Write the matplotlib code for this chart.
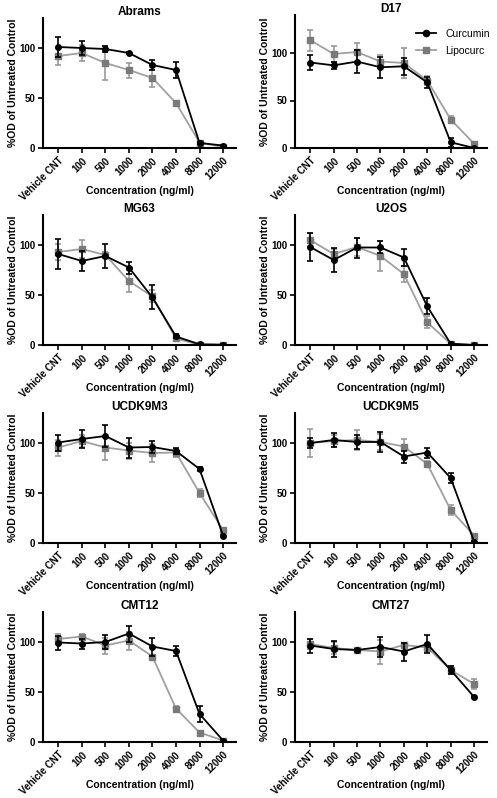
import numpy as np
import matplotlib.pyplot as plt
from matplotlib.lines import Line2D

plt.rcParams['font.family'] = ['Liberation Sans', 'DejaVu Sans']

conc_labels = ["Vehicle CNT", "100", "500", "1000", "2000", "4000", "8000", "12000"]
titles = ["Abrams", "D17", "MG63", "U2OS", "UCDK9M3", "UCDK9M5", "CMT12", "CMT27"]

# Curcumin / Lipocurc means and SD, one list per cell line
abrams_cur = [101, 100, 99, 95, 83, 78, 5, 2.5]
abrams_cur_sd = [10, 7, 3, 1, 5, 8, 1, 0.5]
abrams_lip = [92, 95, 85, 78, 70, 45, 5.5, 1]
abrams_lip_sd = [8.5, 8, 17, 7.5, 8.5, 2, 1, 0.5]

d17_cur = [90, 87, 91, 85, 86, 69, 6, 0]
d17_cur_sd = [8, 4, 12, 11, 9, 6, 5, 0]
d17_lip = [113.5, 99, 101, 91, 89.5, 71, 30, 4.5]
d17_lip_sd = [11, 8, 10, 7, 16, 5, 4, 1]

mg63_cur = [91, 84, 89, 77.5, 47.5, 8.5, 0.7, 0.3]
mg63_cur_sd = [15, 10, 12, 6, 12, 2, 0.5, 0.3]
mg63_lip = [93, 96, 90, 64, 48.5, 6.5, 0.3, 0.3]
mg63_lip_sd = [8, 9, 3, 11, 6, 3, 0.3, 0.3]

u2os_cur = [98, 85, 97.5, 97.5, 87.5, 38.5, 1.3, 0]
u2os_cur_sd = [14, 12, 10, 6, 8, 8, 0.5, 0]
u2os_lip = [105, 91, 98, 89, 71, 22.5, 1.3, 0]
u2os_lip_sd = [7, 5, 9, 15, 8, 6, 0.5, 0]

m3_cur = [100.5, 104, 107, 95.5, 96, 92, 74, 7.5]
m3_cur_sd = [8, 9, 11, 10, 6, 3, 2, 0.5]
m3_lip = [95.5, 102, 95.5, 92.5, 90, 90.5, 50, 13]
m3_lip_sd = [8, 6, 12, 8, 9, 4, 4, 2]

m5_cur = [100, 103, 101, 101, 86.5, 90.5, 65, 1.5]
m5_cur_sd = [5, 7, 7, 10, 6, 5, 5, 0.5]
m5_lip = [100, 102, 103, 101, 96.5, 79, 33, 7.5]
m5_lip_sd = [14, 6, 10, 8, 8, 3, 5, 1]

cmt12_cur = [99.5, 98.5, 100, 108.5, 95.5, 91, 28, 1.5]
cmt12_cur_sd = [7, 5, 7, 8, 9, 5, 8, 0.5]
cmt12_lip = [103, 105.5, 96.5, 101.5, 85.5, 33.5, 9.5, 1.5]
cmt12_lip_sd = [5, 3, 8, 9, 1, 3, 1, 0.5]

cmt27_cur = [96.5, 93, 92, 95, 90.5, 98, 72, 45]
cmt27_cur_sd = [7, 8, 1, 10, 9, 9, 4, 1]
cmt27_lip = [98, 94, 92, 90.5, 97, 94.5, 72, 58]
cmt27_lip_sd = [5, 6, 1, 12, 2, 4, 4, 5]

cur_all = [abrams_cur, d17_cur, mg63_cur, u2os_cur, m3_cur, m5_cur, cmt12_cur, cmt27_cur]
cur_sd_all = [abrams_cur_sd, d17_cur_sd, mg63_cur_sd, u2os_cur_sd, m3_cur_sd, m5_cur_sd, cmt12_cur_sd, cmt27_cur_sd]
lip_all = [abrams_lip, d17_lip, mg63_lip, u2os_lip, m3_lip, m5_lip, cmt12_lip, cmt27_lip]
lip_sd_all = [abrams_lip_sd, d17_lip_sd, mg63_lip_sd, u2os_lip_sd, m3_lip_sd, m5_lip_sd, cmt12_lip_sd, cmt27_lip_sd]

W, H = 497, 798
fig = plt.figure(figsize=(W/100, H/100), dpi=100)

x = np.arange(len(conc_labels))
col_lr = [(43, 236), (295, 487)]
row_bottom = [148, 345, 543, 742]

for i, title in enumerate(titles):
    r, c = divmod(i, 2)
    l, rr = col_lr[c]
    ymax = 140 if title == "D17" else 130
    h = 133 if title == "D17" else 130
    ax = fig.add_axes([l/W, 1 - row_bottom[r]/H, (rr-l)/W, h/H])

    ax.errorbar(x, lip_all[i], yerr=lip_sd_all[i], color='#a0a0a0', lw=1.3,
                marker='s', ms=4.5, mfc='#7a7a7a', mec='#7a7a7a',
                ecolor='#9a9a9a', elinewidth=1.2, capsize=2.5, capthick=1.2,
                zorder=2)
    ax.errorbar(x, cur_all[i], yerr=cur_sd_all[i], color='black', lw=1.3,
                marker='o', ms=4, mfc='black', mec='black',
                ecolor='black', elinewidth=1.2, capsize=2.5, capthick=1.2,
                zorder=3)

    ax.set_xlim(-0.65, 7.55)
    ax.set_ylim(0, ymax)
    ax.set_yticks([0, 50, 100])
    ax.set_xticks(x)
    ax.set_xticklabels(conc_labels, rotation=45, ha='right', rotation_mode='anchor')
    for lab in ax.get_xticklabels() + ax.get_yticklabels():
        lab.set_fontweight('bold')
        lab.set_fontsize(7)
    ax.tick_params(width=1.2, length=3.5, pad=2)
    ax.spines['top'].set_visible(False)
    ax.spines['right'].set_visible(False)
    ax.spines['left'].set_linewidth(1.5)
    ax.spines['bottom'].set_linewidth(1.5)
    ax.set_title(title, fontsize=8.5, fontweight='bold', pad=2)
    ax.set_xlabel("Concentration (ng/ml)", fontsize=7.5, fontweight='bold')
    ax.xaxis.set_label_coords(0.5, -38/h)
    ax.set_ylabel("%OD of Untreated Control", fontsize=7.5, fontweight='bold')
    ax.yaxis.set_label_coords(-25/(rr-l), 0.5)

handles = [
    Line2D([], [], color='black', lw=1.3, marker='o', ms=4.5),
    Line2D([], [], color='#a0a0a0', lw=1.3, marker='s', ms=5,
           mfc='#7a7a7a', mec='#7a7a7a'),
]
fig.legend(handles, ["Curcumin", "Lipocurc"], loc='upper left', frameon=False,
           fontsize=7.5, bbox_to_anchor=(416/W, 1 - 29/H), handlelength=1.9,
           handletextpad=0.9, labelspacing=0.65, borderaxespad=0, borderpad=0)

fig.savefig("out.png", dpi=100)
